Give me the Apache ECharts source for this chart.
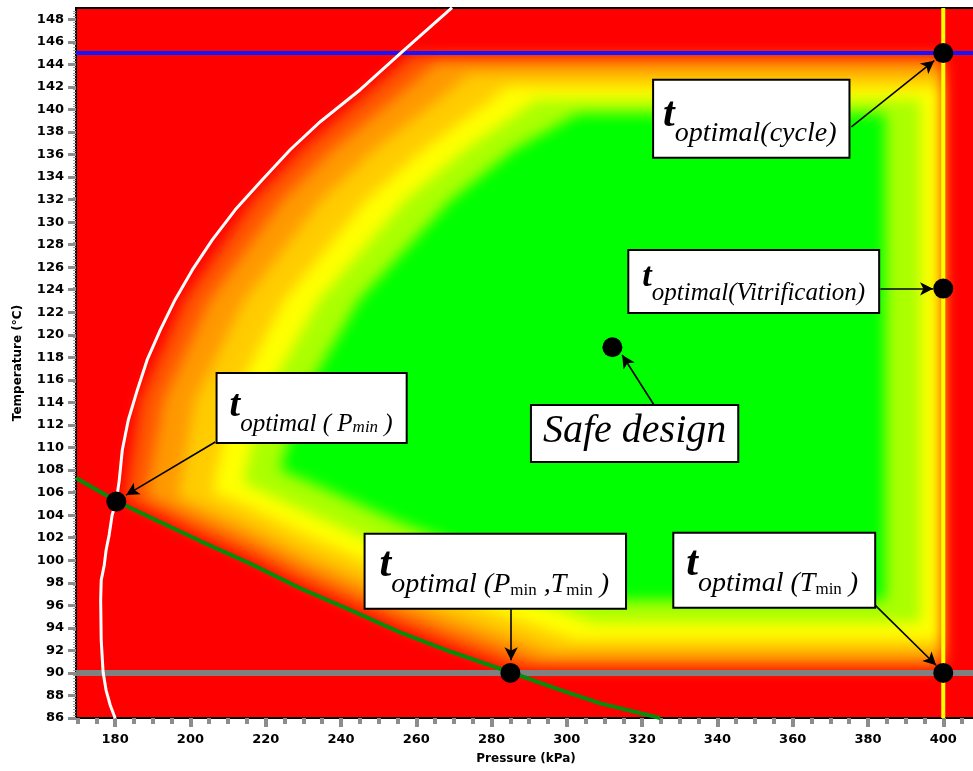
<!DOCTYPE html>
<html>
<head>
<meta charset="utf-8">
<script src="https://cdn.jsdelivr.net/npm/echarts@6.0.0/dist/echarts.min.js"></script>
<style>
html,body{margin:0;padding:0;background:#ffffff;overflow:hidden;}
#wrap{position:relative;width:973px;height:771px;overflow:hidden;background:#fff;}
#clip{position:absolute;left:76px;top:8px;width:897px;height:710px;overflow:hidden;}
#bg{position:absolute;left:-116px;top:-48px;width:1100px;height:860px;filter:blur(7px);}
#main{position:absolute;left:0;top:0;width:973px;height:771px;}
</style>
</head>
<body>
<div id="wrap"><div id="clip"><div id="bg"></div></div><div id="main"></div></div>
<script>
// ---------- axis ranges & ticks ----------
const X_MIN = 169.6, X_MAX = 408.7, Y_MIN = 86, Y_MAX = 149;
const xTickValues = [180,200,220,240,260,280,300,320,340,360,380,400];
const xMinorTicks = [170,175,185,190,195,205,210,215,225,230,235,245,250,255,265,270,275,285,290,295,305,310,315,325,330,335,345,350,355,365,370,375,385,390,395,405];
const yTickValues = [86,88,90,92,94,96,98,100,102,104,106,108,110,112,114,116,118,120,122,124,126,128,130,132,134,136,138,140,142,144,146,148];

// ---------- constraint curves ----------
const whiteCurve = [[180.0,85.98],[178.7,87.13],[177.6,88.46],[176.8,90.06],[176.3,92.90],[176.15,96.46],[176.3,98.23],[177.1,99.56],[177.6,100.90],[178.4,102.23],[179.2,104.01],[180.3,105.25],[181.1,107.11],[181.9,109.78],[183.5,112.44],[185.9,115.11],[188.5,117.77],[192.0,120.44],[195.9,123.10],[200.5,125.76],[205.8,128.43],[211.9,131.09],[219.1,133.76],[226.5,136.42],[234.5,138.91],[245.1,141.75],[256.3,145.13],[269.5,149.03]];
const greenCurve = [[169.6,107.3],[180.3,105.25],[189.3,103.8],[202.6,101.7],[215.9,99.7],[229.2,97.5],[242.4,95.6],[255.7,93.6],[269.0,91.9],[285.0,90.06],[298.2,88.5],[308.9,87.3],[324.8,86.0]];
const tMaxLine = [[X_MIN,145],[X_MAX,145]];
const tMinLine = [[X_MIN,90],[X_MAX,90]];
const pMaxLine = [[400,Y_MIN],[400,Y_MAX]];

// ---------- key points & callouts ----------
const keyPoints = [[400,145],[400,124.1],[312.1,118.9],[180.3,105.2],[285.0,90.0],[400,90.0]];
const calloutAnchors = [[349.0,139.17],[349.65,124.74],[232.2,113.51],[318.0,111.24],[281.0,99.03],[355.1,99.12]];
const calloutTexts = [
  '{t|t}{s|optimal(cycle)}',
  '{t|t}{s|optimal(Vitrification)}',
  '{t|t}{s|optimal ( P}{m|min}{s| )}',
  '{d|Safe design}',
  '{t|t}{s|optimal (P}{m|min}{s| ,T}{m|min}{s| )}',
  '{t|t}{s|optimal (T}{m|min}{s| )}'
];
const arrowSegments = [[375.6,138.46,397.6,144.33],[383.3,124.08,397.3,124.08],[206.6,110.49,182.9,105.78],[323.5,113.60,314.7,118.21],[285.2,95.66,285.2,91.13],[381.9,96.01,398.1,90.68]];

// ---------- colour-field contour bands (outer edge of each band) ----------
const band1 = [[182.4,105.34],[186.5,114.22],[198.3,123.10],[216.7,131.98],[229.4,136.42],[244.8,140.86],[258.7,144.86],[400,144.86],[400,90.33],[286.0,90.33],[269.0,92.42],[255.7,94.10],[242.4,96.06],[229.2,98.01],[215.9,100.23],[202.6,102.18],[189.3,104.32]];
const band2 = [[188.2,105.69],[192.8,114.22],[205.1,123.10],[224.4,131.98],[237.7,136.42],[253.8,140.86],[265.6,144.24],[400,144.24],[400,90.95],[292.4,90.95],[285.0,91.84],[269.0,93.70],[255.7,95.39],[242.4,97.34],[229.2,99.30],[215.9,101.52],[202.6,103.47]];
const band3 = [[196.7,105.60],[201.2,114.22],[214.3,123.10],[234.7,131.98],[248.8,136.42],[265.8,140.86],[274.1,143.17],[400,143.17],[400,91.84],[296.4,91.84],[285.0,93.17],[269.0,95.04],[255.7,96.72],[242.4,98.68],[229.2,100.63],[215.9,102.85],[202.6,104.80]];
const band4 = [[205.8,106.05],[211.1,114.22],[224.9,123.10],[246.8,131.98],[261.8,136.42],[279.9,140.86],[284.2,142.02],[399.5,142.02],[399.5,92.90],[302.2,92.90],[285.0,94.95],[269.0,96.81],[255.7,98.50],[242.4,100.45],[229.2,102.41],[215.9,104.63]];
const band5 = [[214.0,106.94],[219.5,114.22],[234.2,123.10],[257.2,131.98],[273.0,136.42],[292.1,140.86],[393.9,140.86],[393.9,94.50],[307.3,94.50],[285.0,97.08],[269.0,98.94],[255.7,100.63],[242.4,102.58],[229.2,104.54]];
const band6 = [[223.8,108.00],[229.4,114.22],[244.8,123.10],[269.3,131.98],[286.0,136.42],[303.0,139.62],[384.6,139.62],[384.6,96.46],[315.0,96.46],[298.2,98.23],[285.0,99.83],[269.0,101.70],[255.7,103.38],[242.4,105.34],[229.2,107.29]];
const bands = [band1, band2, band3, band4, band5, band6];
const bandColors = ['#ff5500','#ff9900','#ffcc00','#ffff00','#aaff00','#00ff00'];

// ---------- background colour field ----------
const bg = echarts.init(document.getElementById('bg'), null, {renderer:'canvas'});
bg.setOption({
  animation:false,
  backgroundColor:'#ff0000',
  grid:{left:116, top:48, width:900, height:710, outerBoundsMode:'none', show:false},
  xAxis:{type:'value', min:X_MIN, max:X_MAX, show:false},
  yAxis:{type:'value', min:Y_MIN, max:Y_MAX, show:false},
  series: bands.map((pts, i) => ({
    type:'custom', coordinateSystem:'cartesian2d', silent:true, animation:false,
    data: pts,
    renderItem: function (params, api) {
      if (params.dataIndex !== 0) return null;
      return {type:'polygon', shape:{points: pts.map(p => api.coord(p))}, style:{fill: bandColors[i]}};
    }
  }))
});

// ---------- main chart ----------
const serif = 'Liberation Serif';
function richSet(tSize, sSize, a, b, mSize, c, mItalic) {
  return {
    t:{fontFamily:serif, fontStyle:'italic', fontWeight:'bold', fontSize:tSize, lineHeight:tSize, padding:[0,0,a,0], color:'#000'},
    s:{fontFamily:serif, fontStyle:'italic', fontSize:sSize, lineHeight:sSize, padding:[b,0,0,0], color:'#000'},
    m:{fontFamily:serif, fontStyle:mItalic ? 'italic' : 'normal', fontSize:mSize, lineHeight:mSize, padding:[c,0,0,0], color:'#000'},
    d:{fontFamily:serif, fontStyle:'italic', fontSize:40, lineHeight:40, color:'#000'}
  };
}
const calloutStyles = [
  {rich: richSet(42, 28, 11, 25, 17, 30, false), padding:[19,12,15,9]},
  {rich: richSet(34, 25, 12, 21, 17, 30, false), padding:[15,13,12,13]},
  {rich: richSet(38, 25, 11.5, 24.5, 17, 32, true), padding:[19,13,11,12]},
  {rich: richSet(38, 25, 11, 24, 17, 30, false), padding:[5,11,10,11]},
  {rich: richSet(42, 28, 12, 26, 17, 37, false), padding:[16,16,15,14]},
  {rich: richSet(42, 28, 12, 26, 17, 37, false), padding:[16,16,15,12]}
];

const tickFont = {fontFamily:'DejaVu Sans', fontWeight:'bold', fontSize:13, color:'#000'};
const main = echarts.init(document.getElementById('main'), null, {renderer:'canvas'});
function line(data, color, width, z) {
  return {type:'line', data:data, symbol:'none', silent:true, animation:false, z:z,
          lineStyle:{color:color, width:width, opacity:1}, emphasis:{disabled:true}};
}
main.setOption({
  animation:false,
  backgroundColor:'transparent',
  grid:{left:76, top:8, width:900, height:710, show:true, borderColor:'#000', borderWidth:2, backgroundColor:'transparent', outerBoundsMode:'none'},
  xAxis:[{
    type:'value', min:X_MIN, max:X_MAX, position:'bottom',
    name:'Pressure (kPa)', nameLocation:'middle', nameGap:35, nameMoveOverlap:false,
    nameTextStyle:{fontFamily:'DejaVu Sans', fontWeight:'bold', fontSize:12, color:'#000'},
    axisLine:{show:true, onZero:false, lineStyle:{color:'#000', width:2}},
    axisTick:{show:true, customValues:xTickValues, length:9, lineStyle:{color:'#8c8c8c', width:4}},
    axisLabel:Object.assign({customValues:xTickValues, margin:15}, tickFont),
    splitLine:{show:false}
  },{
    type:'value', min:X_MIN, max:X_MAX, position:'bottom', offset:0,
    axisLine:{show:false, onZero:false},
    axisTick:{show:true, customValues:xMinorTicks, length:6, lineStyle:{color:'#8c8c8c', width:4}},
    axisLabel:{show:false}, splitLine:{show:false}
  }],
  yAxis:[{
    type:'value', min:Y_MIN, max:Y_MAX, interval:2, position:'left',
    name:'Temperature (°C)', nameLocation:'middle', nameGap:52, nameMoveOverlap:false,
    nameTextStyle:{fontFamily:'DejaVu Sans', fontWeight:'bold', fontSize:12, color:'#000'},
    axisLine:{show:true, onZero:false, lineStyle:{color:'#000', width:2}},
    axisTick:{show:true, customValues:yTickValues, length:8, lineStyle:{color:'#8c8c8c', width:3}},
    minorTick:{show:true, splitNumber:8, length:3, lineStyle:{color:'#9a9a9a', width:1}},
    axisLabel:Object.assign({customValues:yTickValues, margin:12}, tickFont),
    splitLine:{show:false}, minorSplitLine:{show:false}
  }],
  series:[
    line(tMaxLine, '#1414ff', 4, 2),
    line(tMinLine, '#808080', 6, 2),
    line(pMaxLine, '#ffff00', 4, 2),
    line(whiteCurve, '#ffffff', 3, 3),
    line(greenCurve, '#0a8a0a', 4, 3),
    {
      type:'scatter', data:keyPoints, symbol:'circle', symbolSize:20, silent:true, z:5,
      itemStyle:{color:'#000', opacity:1}, emphasis:{disabled:true},
      markLine:{
        silent:true, animation:false, symbol:['none','arrow'], symbolSize:[10,13],
        lineStyle:{color:'#000', width:1.6, type:'solid', opacity:1}, label:{show:false}, emphasis:{disabled:true},
        data: arrowSegments.map(s => [{coord:[s[0], s[1]]}, {coord:[s[2], s[3]]}])
      }
    },
    {
      type:'scatter', symbolSize:1, silent:true, z:10, itemStyle:{color:'transparent', opacity:1}, emphasis:{disabled:true},
      label:{show:true, position:'inside', backgroundColor:'#ffffff', borderColor:'#000', borderWidth:2, opacity:1},
      data: calloutAnchors.map((p, i) => ({
        value:p,
        label:{formatter:calloutTexts[i], rich:calloutStyles[i].rich, padding:calloutStyles[i].padding}
      }))
    }
  ]
});
</script>
</body>
</html>
